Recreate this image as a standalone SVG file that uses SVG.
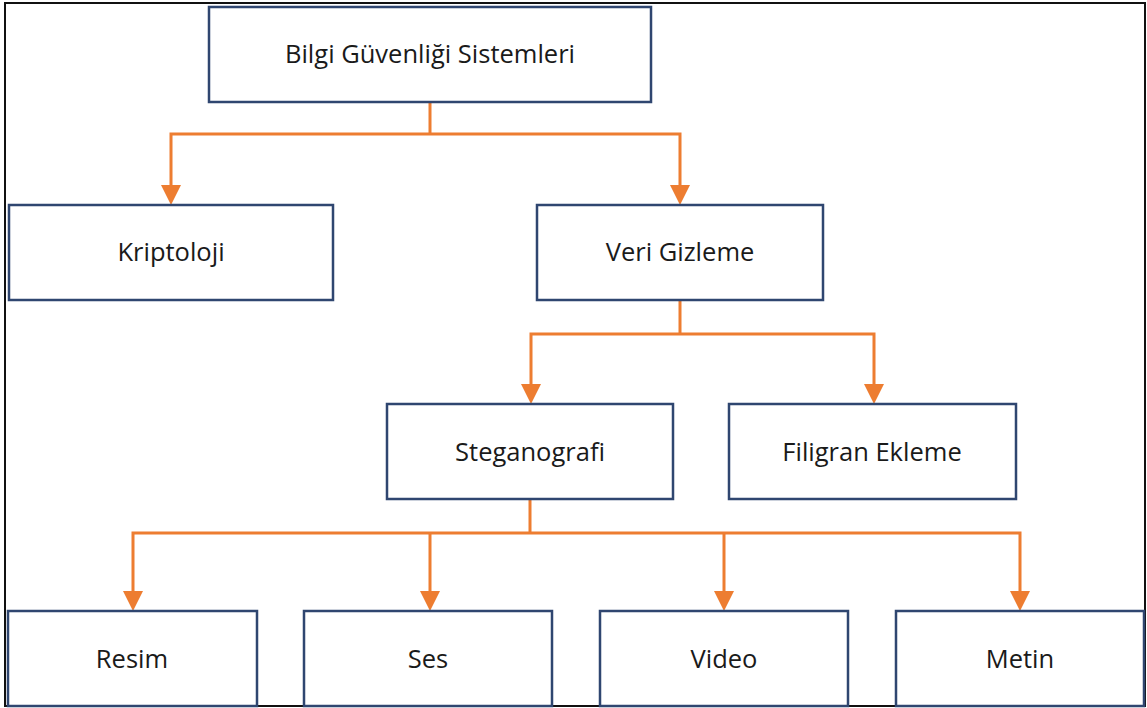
<svg xmlns="http://www.w3.org/2000/svg" width="1147" height="708" viewBox="0 0 1147 708">
<style>
.box{fill:#fff;stroke:#2F4670;stroke-width:2.5}
.lbl{font-family:"Open Sans","Liberation Sans",sans-serif;font-size:25.5px;fill:#1a1a1a;text-anchor:middle;dominant-baseline:central}
.con{fill:none;stroke:#ED7D31;stroke-width:3}
.ah{fill:#ED7D31}
</style>
<rect x="0" y="0" width="1147" height="708" fill="#fff"/>
<rect x="5" y="3" width="1140" height="703" fill="none" stroke="#111" stroke-width="2"/>
<g id="connectors">
<path class="con" d="M430,102 V134"/>
<path class="con" d="M430,134 H171 V185"/>
<polygon class="ah" points="161,185 181,185 171,205"/>
<path class="con" d="M430,134 H680 V185"/>
<polygon class="ah" points="670,185 690,185 680,205"/>
<path class="con" d="M680,301 V334"/>
<path class="con" d="M680,334 H531 V384"/>
<polygon class="ah" points="521,384 541,384 531,404"/>
<path class="con" d="M680,334 H874 V384"/>
<polygon class="ah" points="864,384 884,384 874,404"/>
<path class="con" d="M530,500 V533"/>
<path class="con" d="M133,591 V533 H1020 V591"/>
<path class="con" d="M430,533 V591"/>
<path class="con" d="M724,533 V591"/>
<polygon class="ah" points="123,591 143,591 133,611"/>
<polygon class="ah" points="420,591 440,591 430,611"/>
<polygon class="ah" points="714,591 734,591 724,611"/>
<polygon class="ah" points="1010,591 1030,591 1020,611"/>
</g>
<g id="n-bilgi"><rect class="box" x="209" y="7" width="442" height="95"/><text class="lbl" x="430" y="53">Bilgi Güvenliği Sistemleri</text></g>
<g id="n-kripto"><rect class="box" x="9" y="205" width="324" height="95"/><text class="lbl" x="171" y="251">Kriptoloji</text></g>
<g id="n-veri"><rect class="box" x="537" y="205" width="286" height="95"/><text class="lbl" x="680" y="251">Veri Gizleme</text></g>
<g id="n-stegano"><rect class="box" x="387" y="404" width="286" height="95"/><text class="lbl" x="530" y="451">Steganografi</text></g>
<g id="n-filigran"><rect class="box" x="729" y="404" width="287" height="95"/><text class="lbl" x="872" y="451">Filigran Ekleme</text></g>
<g id="n-resim"><rect class="box" x="8" y="611" width="249" height="95"/><text class="lbl" x="132" y="658">Resim</text></g>
<g id="n-ses"><rect class="box" x="304" y="611" width="248" height="95"/><text class="lbl" x="428" y="658">Ses</text></g>
<g id="n-video"><rect class="box" x="600" y="611" width="248" height="95"/><text class="lbl" x="724" y="658">Video</text></g>
<g id="n-metin"><rect class="box" x="896" y="611" width="248" height="95"/><text class="lbl" x="1020" y="658">Metin</text></g>
</svg>
